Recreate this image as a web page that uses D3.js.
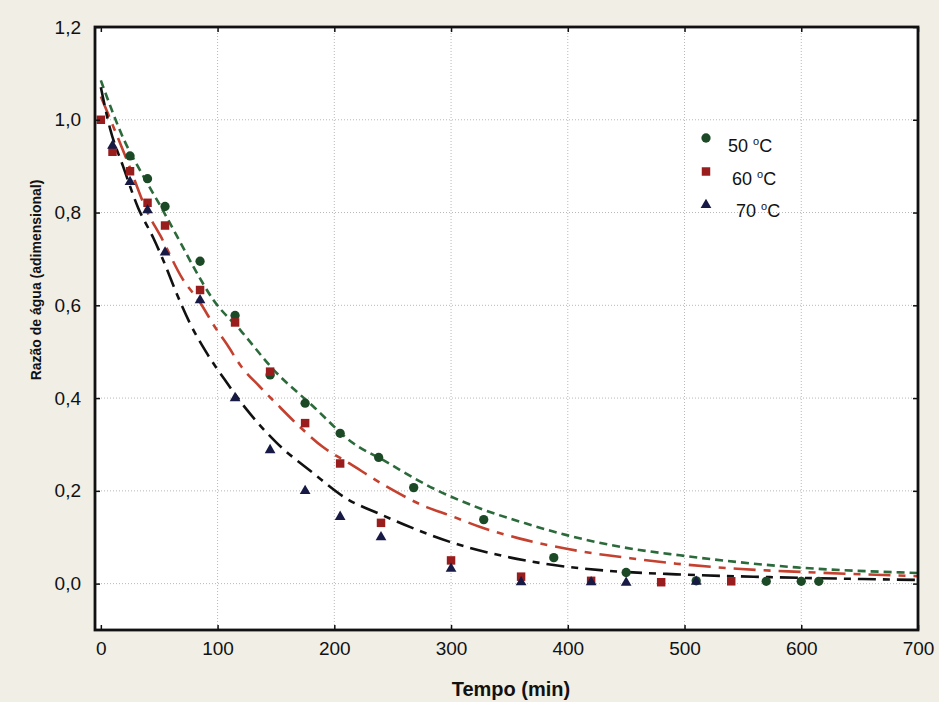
<!DOCTYPE html>
<html>
<head>
<meta charset="utf-8">
<script src="https://cdn.jsdelivr.net/npm/d3@7"></script>
<style>
  body { margin: 0; background: #f0eee5; }
  svg { display: block; font-family: "Liberation Sans", Arial, sans-serif; }
</style>
</head>
<body>
<svg class="chart"></svg>
<script>
// measured points (tempo em min, razao de agua)
var t50 = [25, 40, 55, 85, 115, 145, 175, 205, 238, 268, 328, 388, 450, 510, 570, 600, 615];
var v50 = [0.922, 0.873, 0.813, 0.695, 0.578, 0.450, 0.389, 0.324, 0.272, 0.207, 0.138, 0.056, 0.024, 0.006, 0.005, 0.005, 0.005];

var t60 = [0, 10, 25, 40, 55, 85, 115, 145, 175, 205, 240, 300, 360, 420, 480, 540];
var v60 = [1.0, 0.931, 0.889, 0.821, 0.772, 0.633, 0.563, 0.457, 0.346, 0.259, 0.131, 0.050, 0.015, 0.006, 0.003, 0.005];

var t70 = [10, 25, 40, 55, 85, 115, 145, 175, 205, 240, 300, 360, 420, 450, 510];
var v70 = [0.944, 0.866, 0.805, 0.714, 0.611, 0.400, 0.288, 0.200, 0.144, 0.100, 0.032, 0.003, 0.003, 0.002, 0.004];

// fitted curves
var ft50 = [0, 20, 36, 52, 68, 80, 96, 120, 148, 182, 216, 242, 285, 325, 365, 400, 448, 496, 596, 700];
var fv50 = [1.085, 0.956, 0.880, 0.810, 0.736, 0.680, 0.613, 0.545, 0.461, 0.382, 0.303, 0.266, 0.205, 0.162, 0.129, 0.104, 0.078, 0.061, 0.035, 0.023];

var ft60 = [0, 23, 40, 51, 70, 85, 98, 108, 120, 136, 150, 170, 190, 213, 245, 279, 299, 325, 359, 399, 459, 493, 545, 602, 700];
var fv60 = [1.05, 0.909, 0.800, 0.750, 0.657, 0.606, 0.552, 0.516, 0.469, 0.425, 0.389, 0.339, 0.295, 0.259, 0.209, 0.165, 0.147, 0.122, 0.097, 0.075, 0.053, 0.043, 0.032, 0.025, 0.016];

var ft70 = [0, 8, 19, 32, 45, 53, 65, 76, 90, 108, 125, 150, 182, 210, 239, 279, 299, 342, 388, 433, 493, 573, 700];
var fv70 = [1.07, 0.98, 0.90, 0.81, 0.745, 0.70, 0.625, 0.563, 0.50, 0.433, 0.375, 0.305, 0.238, 0.184, 0.150, 0.108, 0.090, 0.061, 0.040, 0.028, 0.020, 0.014, 0.008];

var seriesNames = ["50", "60", "70"];
var xTicks = [0, 100, 200, 300, 400, 500, 600, 700];
var yTicks = [0.0, 0.2, 0.4, 0.6, 0.8, 1.0, 1.2];

function draw() {
    'use strict';

    function zip(ts, vs) {
        return ts.map(function(t, i) { return {t: t, v: vs[i]}; });
    }

    var series = [
        {name: seriesNames[0], pts: zip(t50, v50), fit: zip(ft50, fv50), sym: d3.symbolCircle, size: 68,
         mark: "#1d4a26", line: "#2b6a3a", dash: "8,5"},
        {name: seriesNames[1], pts: zip(t60, v60), fit: zip(ft60, fv60), sym: d3.symbolSquare, size: 72,
         mark: "#9a1d1d", line: "#c4402f", dash: "22,8,7,8"},
        {name: seriesNames[2], pts: zip(t70, v70), fit: zip(ft70, fv70), sym: d3.symbolTriangle, size: 50,
         mark: "#171a45", line: "#111111", dash: "18,7,7,7"}
    ];

    var W = 939, H = 702;
    var pl = 95, pr = 918, pt = 27, pb = 630;

    var svg = d3.select(".chart").attr("width", W).attr("height", H);

    var x = d3.scaleLinear().domain([-5, 700]).range([pl, pr]);
    var y = d3.scaleLinear().domain([-0.1, 1.2]).range([pb, pt]);

    var loc = d3.formatLocale({decimal: ",", thousands: ".", grouping: [3], currency: ["", ""]});
    var fmt = loc.format(".1f");

    // plot background
    svg.append("rect")
        .attr("x", pl).attr("y", pt)
        .attr("width", pr - pl).attr("height", pb - pt)
        .attr("fill", "#ffffff");

    // dotted grid
    var grid = svg.append("g");
    grid.selectAll("line.gx").data(xTicks.filter(function(d) { return d > 0 && d < 700; }))
        .enter().append("line")
        .attr("x1", function(d) { return x(d); }).attr("x2", function(d) { return x(d); })
        .attr("y1", pt).attr("y2", pb)
        .attr("stroke", "#b8b8b8").attr("stroke-width", 1).attr("stroke-dasharray", "1,2");
    grid.selectAll("line.gy").data(yTicks.filter(function(d) { return d < 1.2; }))
        .enter().append("line")
        .attr("y1", function(d) { return y(d); }).attr("y2", function(d) { return y(d); })
        .attr("x1", pl).attr("x2", pr)
        .attr("stroke", "#b8b8b8").attr("stroke-width", 1).attr("stroke-dasharray", "1,2");

    svg.append("defs").append("clipPath")
        .attr("id", "clip")
        .append("rect")
        .attr("x", pl).attr("y", pt)
        .attr("width", pr - pl).attr("height", pb - pt);

    // fitted curves
    var line = d3.line().curve(d3.curveMonotoneX)
        .x(function(d) { return x(d.t); })
        .y(function(d) { return y(d.v); });

    var curves = svg.append("g").attr("clip-path", "url(#clip)");
    curves.selectAll("path").data(series).enter().append("path")
        .attr("d", function(d) { return line(d.fit); })
        .attr("fill", "none")
        .attr("stroke", function(d) { return d.line; })
        .attr("stroke-width", 2.6)
        .attr("stroke-dasharray", function(d) { return d.dash; });

    // markers
    var marks = svg.append("g");
    series.forEach(function(s) {
        marks.append("g").selectAll("path").data(s.pts).enter().append("path")
            .attr("transform", function(d) { return "translate(" + x(d.t) + "," + y(d.v) + ")"; })
            .attr("d", d3.symbol().type(s.sym).size(s.size))
            .attr("fill", s.mark);
    });

    // axes, inward ticks on all four sides
    var axB = svg.append("g").attr("transform", "translate(0," + pb + ")")
        .call(d3.axisBottom(x).tickValues(xTicks).tickSizeInner(-5).tickSizeOuter(0).tickPadding(12));
    var axT = svg.append("g").attr("transform", "translate(0," + pt + ")")
        .call(d3.axisTop(x).tickValues(xTicks).tickSizeInner(-5).tickSizeOuter(0).tickFormat(""));
    var axL = svg.append("g").attr("transform", "translate(" + pl + ",0)")
        .call(d3.axisLeft(y).tickValues(yTicks).tickSizeInner(-5).tickSizeOuter(0).tickPadding(14).tickFormat(fmt));
    var axR = svg.append("g").attr("transform", "translate(" + pr + ",0)")
        .call(d3.axisRight(y).tickValues(yTicks).tickSizeInner(-5).tickSizeOuter(0).tickFormat(""));

    [axB, axT, axL, axR].forEach(function(a) {
        a.select(".domain").remove();
        a.selectAll(".tick line").attr("stroke", "#111").attr("stroke-width", 1.5);
        a.selectAll(".tick text").attr("fill", "#111").attr("font-size", 19)
            .attr("font-family", "'Liberation Sans', Arial, sans-serif");
    });

    // frame
    svg.append("rect")
        .attr("x", pl).attr("y", pt)
        .attr("width", pr - pl).attr("height", pb - pt)
        .attr("fill", "none").attr("stroke", "#111").attr("stroke-width", 2.8);

    // axis titles
    svg.append("text")
        .attr("x", 511).attr("y", 696)
        .attr("text-anchor", "middle")
        .attr("font-size", 20).attr("font-weight", "bold").attr("fill", "#111")
        .text("Tempo (min)");

    svg.append("text")
        .attr("transform", "translate(41,280) rotate(-90)")
        .attr("text-anchor", "middle")
        .attr("font-size", 14).attr("font-weight", "bold").attr("fill", "#111")
        .text("Razão de água (adimensional)");

    // legend
    var legend = svg.append("g");
    series.forEach(function(s, i) {
        legend.append("path")
            .attr("transform", "translate(706," + (138 + i * 33.5) + ")")
            .attr("d", d3.symbol().type(s.sym).size(s.size))
            .attr("fill", s.mark);
        var tx = legend.append("text")
            .attr("x", 728 + i * 4).attr("y", 152 + i * 32.5)
            .attr("font-size", 18).attr("fill", "#111");
        tx.append("tspan").text(s.name + " ");
        tx.append("tspan").attr("font-size", 11).attr("dy", -7).text("o");
        tx.append("tspan").attr("dy", 7).text("C");
    });
}

draw();
</script>
</body>
</html>
